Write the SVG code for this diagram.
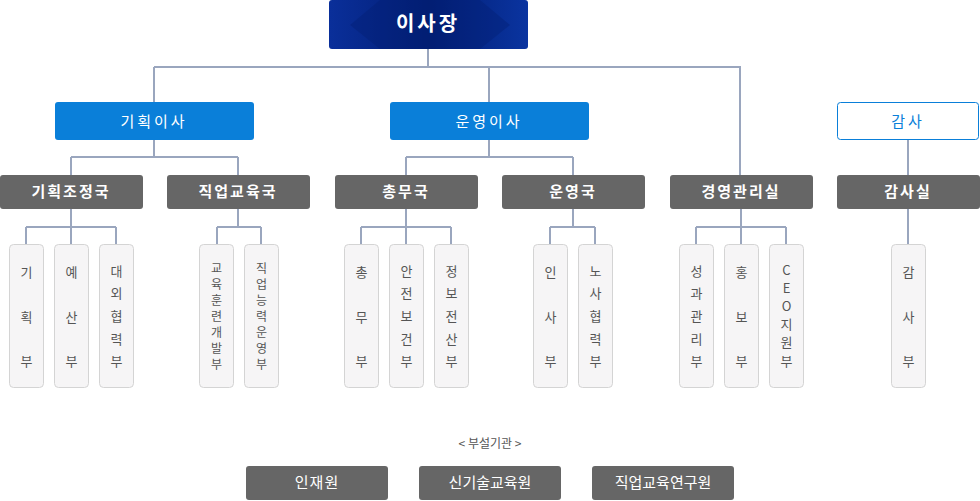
<svg xmlns="http://www.w3.org/2000/svg" width="980" height="501" viewBox="0 0 980 501">
<style>
text{font-family:"Noto Sans CJK KR","Noto Sans",sans-serif;text-anchor:middle}
.l1{fill:#0a7fd9}
.l1t{fill:#fff;font-size:15px}
.l2{fill:#666}
.l2t{fill:#fff;font-size:15px;font-weight:bold}
.lf{fill:#f6f5f6;stroke:#d4d4d4}
.lt{fill:#555;font-size:13px}
.ls{fill:#555;font-size:12px}
.c{stroke:#9aa6be;stroke-width:2;fill:none}
</style>
<defs><linearGradient id="g" x1="0" x2="1"><stop offset="0" stop-color="#0a2f9a"/><stop offset="0.5" stop-color="#021e74"/><stop offset="1" stop-color="#0a34a0"/></linearGradient></defs>
<g id="connectors" class="c">
<path d="M428 49V67M154 67H740V175M154 67V102M489 67V102M908 140V175M908 209V244"/>
<path d="M154 140V157M71 157H238M71 157V175M238 157V175"/>
<path d="M489 140V157M406 157H573M406 157V175M573 157V175"/>
<path d="M71 209V227M26 227H116M26 227V244M71 227V244M116 227V244"/>
<path d="M238 209V227M217 227H261M217 227V244M261 227V244"/>
<path d="M406 209V227M361 227H451M361 227V244M406 227V244M451 227V244"/>
<path d="M573 209V227M550 227H595M550 227V244M595 227V244"/>
<path d="M741 209V227M696 227H786M696 227V244M741 227V244M786 227V244"/>
</g>
<g id="top"><rect x="329" y="0" width="199" height="49" rx="3" fill="url(#g)"/><polygon points="380,0 480,0 510,25 480,49 380,49 350,25" fill="#021e74" opacity="0.4"/><text x="428" y="31" fill="#fff" font-size="20" font-weight="bold" letter-spacing="3">이사장</text></g>
<g id="n-plan"><rect class="l1" x="55" y="102" width="199" height="38" rx="3"/><text class="l1t" x="154" y="127" letter-spacing="3">기획이사</text></g>
<g id="n-oper"><rect class="l1" x="390" y="102" width="199" height="38" rx="3"/><text class="l1t" x="489" y="127" letter-spacing="3">운영이사</text></g>
<g id="n-audit"><rect x="837.5" y="102.5" width="141" height="37" rx="3" fill="#fff" stroke="#0a7fd9"/><text x="908" y="127" fill="#0a7fd9" font-size="15" letter-spacing="3">감사</text></g>
<g id="d1"><rect class="l2" x="0" y="175" width="143" height="34" rx="3"/><text class="l2t" x="71" y="197" letter-spacing="2">기획조정국</text></g>
<g id="d2"><rect class="l2" x="167" y="175" width="143" height="34" rx="3"/><text class="l2t" x="238" y="197" letter-spacing="2">직업교육국</text></g>
<g id="d3"><rect class="l2" x="335" y="175" width="143" height="34" rx="3"/><text class="l2t" x="406" y="197" letter-spacing="2">총무국</text></g>
<g id="d4"><rect class="l2" x="502" y="175" width="143" height="34" rx="3"/><text class="l2t" x="573" y="197" letter-spacing="2">운영국</text></g>
<g id="d5"><rect class="l2" x="670" y="175" width="143" height="34" rx="3"/><text class="l2t" x="741" y="197" letter-spacing="2">경영관리실</text></g>
<g id="d6"><rect class="l2" x="837" y="175" width="143" height="34" rx="3"/><text class="l2t" x="908" y="197" letter-spacing="2">감사실</text></g>
<g id="f1"><rect class="lf" x="9.5" y="244.5" width="34" height="143" rx="4"/><text class="lt"><tspan x="26.5" y="277">기</tspan><tspan x="26.5" y="322">획</tspan><tspan x="26.5" y="366">부</tspan></text></g>
<g id="f2"><rect class="lf" x="54.5" y="244.5" width="34" height="143" rx="4"/><text class="lt"><tspan x="71.5" y="277">예</tspan><tspan x="71.5" y="322">산</tspan><tspan x="71.5" y="366">부</tspan></text></g>
<g id="f3"><rect class="lf" x="99.5" y="244.5" width="34" height="143" rx="4"/><text class="lt"><tspan x="116.5" y="276">대</tspan><tspan x="116.5" y="298">외</tspan><tspan x="116.5" y="321">협</tspan><tspan x="116.5" y="344">력</tspan><tspan x="116.5" y="366">부</tspan></text></g>
<g id="f4"><rect class="lf" x="199.5" y="244.5" width="34" height="143" rx="4"/><text class="ls"><tspan x="216.5" y="273">교</tspan><tspan x="216.5" y="289">육</tspan><tspan x="216.5" y="305">훈</tspan><tspan x="216.5" y="321">련</tspan><tspan x="216.5" y="337">개</tspan><tspan x="216.5" y="353">발</tspan><tspan x="216.5" y="369">부</tspan></text></g>
<g id="f5"><rect class="lf" x="244.5" y="244.5" width="34" height="143" rx="4"/><text class="ls"><tspan x="261.5" y="273">직</tspan><tspan x="261.5" y="289">업</tspan><tspan x="261.5" y="305">능</tspan><tspan x="261.5" y="321">력</tspan><tspan x="261.5" y="337">운</tspan><tspan x="261.5" y="353">영</tspan><tspan x="261.5" y="369">부</tspan></text></g>
<g id="f6"><rect class="lf" x="344.5" y="244.5" width="34" height="143" rx="4"/><text class="lt"><tspan x="361.5" y="277">총</tspan><tspan x="361.5" y="322">무</tspan><tspan x="361.5" y="366">부</tspan></text></g>
<g id="f7"><rect class="lf" x="389.5" y="244.5" width="34" height="143" rx="4"/><text class="lt"><tspan x="406.5" y="276">안</tspan><tspan x="406.5" y="298">전</tspan><tspan x="406.5" y="321">보</tspan><tspan x="406.5" y="344">건</tspan><tspan x="406.5" y="366">부</tspan></text></g>
<g id="f8"><rect class="lf" x="434.5" y="244.5" width="34" height="143" rx="4"/><text class="lt"><tspan x="451.5" y="276">정</tspan><tspan x="451.5" y="298">보</tspan><tspan x="451.5" y="321">전</tspan><tspan x="451.5" y="344">산</tspan><tspan x="451.5" y="366">부</tspan></text></g>
<g id="f9"><rect class="lf" x="533.5" y="244.5" width="34" height="143" rx="4"/><text class="lt"><tspan x="550.5" y="277">인</tspan><tspan x="550.5" y="322">사</tspan><tspan x="550.5" y="366">부</tspan></text></g>
<g id="f10"><rect class="lf" x="578.5" y="244.5" width="34" height="143" rx="4"/><text class="lt"><tspan x="595.5" y="276">노</tspan><tspan x="595.5" y="298">사</tspan><tspan x="595.5" y="321">협</tspan><tspan x="595.5" y="344">력</tspan><tspan x="595.5" y="366">부</tspan></text></g>
<g id="f11"><rect class="lf" x="679.5" y="244.5" width="34" height="143" rx="4"/><text class="lt"><tspan x="696.5" y="276">성</tspan><tspan x="696.5" y="298">과</tspan><tspan x="696.5" y="321">관</tspan><tspan x="696.5" y="344">리</tspan><tspan x="696.5" y="366">부</tspan></text></g>
<g id="f12"><rect class="lf" x="724.5" y="244.5" width="34" height="143" rx="4"/><text class="lt"><tspan x="741.5" y="277">홍</tspan><tspan x="741.5" y="322">보</tspan><tspan x="741.5" y="366">부</tspan></text></g>
<g id="f13"><rect class="lf" x="769.5" y="244.5" width="34" height="143" rx="4"/><text class="lt"><tspan x="786.5" y="275">C</tspan><tspan x="786.5" y="293">E</tspan><tspan x="786.5" y="311">O</tspan><tspan x="786.5" y="329">지</tspan><tspan x="786.5" y="347">원</tspan><tspan x="786.5" y="366">부</tspan></text></g>
<g id="f14"><rect class="lf" x="891.5" y="244.5" width="34" height="143" rx="4"/><text class="lt"><tspan x="908.5" y="277">감</tspan><tspan x="908.5" y="322">사</tspan><tspan x="908.5" y="366">부</tspan></text></g>
<text x="490" y="448" fill="#555" font-size="12">&lt; 부설기관 &gt;</text>
<g id="a1"><rect class="l2" x="246" y="466" width="142" height="34" rx="3"/><text x="317" y="488" fill="#fff" font-size="15" letter-spacing="1">인재원</text></g>
<g id="a2"><rect class="l2" x="419" y="466" width="142" height="34" rx="3"/><text x="490" y="488" fill="#fff" font-size="15">신기술교육원</text></g>
<g id="a3"><rect class="l2" x="592" y="466" width="142" height="34" rx="3"/><text x="663" y="488" fill="#fff" font-size="15">직업교육연구원</text></g>
</svg>
